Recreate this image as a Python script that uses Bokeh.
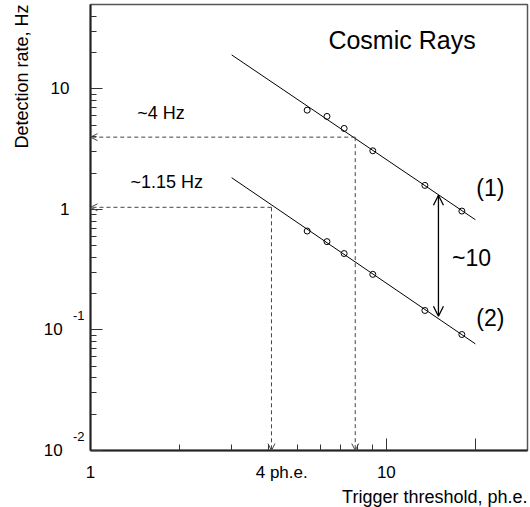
from bokeh.plotting import figure
from bokeh.models import Range1d, FixedTicker, Label, Arrow, OpenHead, LogAxis, Title
from bokeh.embed import file_html
from bokeh.resources import INLINE

# ---- data ----
threshold = [5.4, 6.3, 7.2, 9.0, 13.5, 18.0]          # ph.e.
rate_1 = [6.65, 5.90, 4.69, 3.06, 1.58, 0.968]         # Hz, curve (1)
rate_2 = [0.661, 0.540, 0.430, 0.289, 0.145, 0.0916]   # Hz, curve (2)
fit_x = [3.0, 20.0]
fit_1 = [19.1, 0.82]
fit_2 = [1.83, 0.0766]

rate_4hz = 3.97
thr_4hz = 7.85
rate_115 = 1.04
thr_115 = 4.09
ratio_x = 15.0
ratio_top = 1.31
ratio_bot = 0.13

x_major = [1, 10, 20]
x_label_ticks = [1, 4.43, 10]
x_labels = {1: "1", 4.43: "4 ph.e.", 10: "10"}
y_major = [0.01, 0.1, 1, 10]
PAD = "\u2009\u2009"
y_labels = {0.01: "10" + PAD, 0.1: "10" + PAD, 1: "1", 10: "10"}
# exponent labels (raised above their decade ticks)
exp_ticks = [0.131, 0.0131]
exp_labels = {0.131: "-1", 0.0131: "-2"}

FONT = "Liberation Sans"

p = figure(width=530, height=507, x_axis_type="log", y_axis_type="log",
           x_range=Range1d(1, 30), y_range=Range1d(0.01, 50),
           output_backend="svg", toolbar_location=None, title=None,
           min_border_left=90, min_border_right=3, min_border_top=4,
           min_border_bottom=57)
p.background_fill_color = "white"
p.border_fill_color = "white"
p.outline_line_color = "#555555"
p.outline_line_width = 1.5
p.xgrid.visible = False
p.ygrid.visible = False

x_minor = [k for k in range(2, 10)]
y_minor = [k * 10.0 ** n for n in (-2, -1, 0) for k in range(2, 10)] + [20, 30, 40]

# tick-mark axes (no labels)
p.xaxis.ticker = FixedTicker(ticks=x_major, minor_ticks=x_minor)
p.yaxis.ticker = FixedTicker(ticks=y_major, minor_ticks=y_minor)
for ax in (p.xaxis[0], p.yaxis[0]):
    ax.axis_line_width = 2
    ax.axis_line_color = "#222222"
    ax.major_tick_line_color = "#333333"
    ax.minor_tick_line_color = "#333333"
    ax.major_tick_in = 12
    ax.major_tick_out = 0
    ax.minor_tick_in = 6
    ax.minor_tick_out = 0
    ax.major_label_text_font_size = "0px"
    ax.major_label_standoff = 0
    ax.major_label_overrides = {t: "" for t in (x_major if ax is p.xaxis[0] else y_major)}

def label_axis(ticks, overrides, size, standoff):
    ax = LogAxis(ticker=FixedTicker(ticks=ticks, minor_ticks=[]),
                 major_label_overrides=overrides,
                 axis_line_color=None, major_tick_line_color=None,
                 minor_tick_line_color=None, major_tick_in=0, major_tick_out=0,
                 minor_tick_in=0, minor_tick_out=0,
                 major_label_standoff=standoff,
                 major_label_text_font=FONT, major_label_text_font_size=size,
                 major_label_text_color="black")
    return ax

p.add_layout(label_axis(x_label_ticks, x_labels, "17px", 12), "below")
p.add_layout(label_axis(exp_ticks, exp_labels, "13px", 6), "left")
p.add_layout(label_axis(y_major, y_labels, "17px", 0), "left")

p.add_layout(Title(text="Trigger threshold, ph.e.", align="right",
                   text_font=FONT, text_font_size="18px", text_font_style="normal",
                   text_color="black", standoff=0), "below")
p.add_layout(Title(text="Detection rate, Hz", align="right",
                   text_font=FONT, text_font_size="18px", text_font_style="normal",
                   text_color="black", standoff=17), "left")

# fit lines
p.line(fit_x, fit_1, line_color="black", line_width=1)
p.line(fit_x, fit_2, line_color="black", line_width=1)
# measured points
p.scatter(threshold, rate_1, marker="circle", size=6, fill_color=None,
          line_color="black", line_width=1)
p.scatter(threshold, rate_2, marker="circle", size=6, fill_color=None,
          line_color="black", line_width=1)

DASH_C = "#444444"
def dashed_arrow(x0, y0, x1, y1):
    p.add_layout(Arrow(x_start=x0, y_start=y0, x_end=x1, y_end=y1,
                       line_color=DASH_C, line_width=1, line_dash="4 3",
                       end=OpenHead(size=7, line_color=DASH_C, line_width=1)))

dashed_arrow(thr_4hz, rate_4hz, 1, rate_4hz)
dashed_arrow(thr_4hz, rate_4hz, thr_4hz, 0.01)
dashed_arrow(thr_115, rate_115, 1, rate_115)
dashed_arrow(thr_115, rate_115, thr_115, 0.01)

p.add_layout(Arrow(x_start=ratio_x, y_start=ratio_bot, x_end=ratio_x, y_end=ratio_top,
                   line_color="black", line_width=1.3,
                   start=OpenHead(size=10, line_color="black", line_width=1.3),
                   end=OpenHead(size=10, line_color="black", line_width=1.3)))

def lab(x, y, text, size):
    p.add_layout(Label(x=x, y=y, text=text, text_font=FONT, text_font_size=size,
                       text_color="black", text_align="left",
                       text_baseline="middle"))

lab(6.37, 25.5, "Cosmic Rays", "25px")
lab(20.14, 1.49, "(1)", "23px")
lab(20.14, 0.126, "(2)", "23px")
lab(16.67, 0.393, "~10", "23px")
lab(1.438, 6.30, "~4 Hz", "18px")
lab(1.365, 1.68, "~1.15 Hz", "18px")

open("out.html", "w").write(file_html(p, INLINE))
